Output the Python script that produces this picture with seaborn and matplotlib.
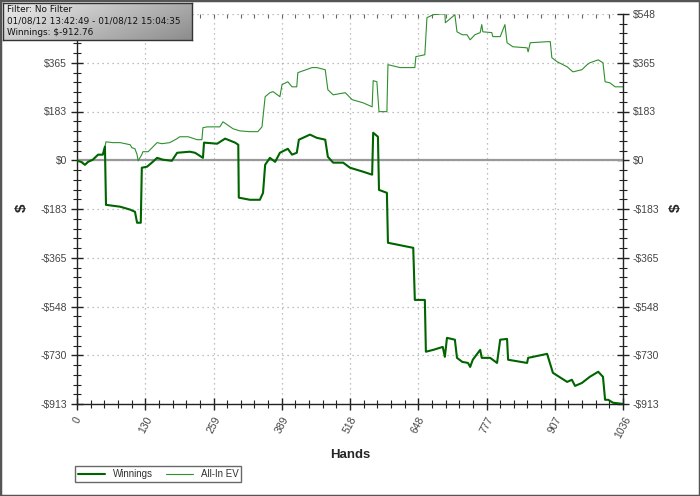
import numpy as np
import pandas as pd
import matplotlib
matplotlib.use("Agg")
import matplotlib.pyplot as plt
import seaborn as sns
from matplotlib.ticker import FixedLocator, AutoMinorLocator, FuncFormatter, NullFormatter
from matplotlib.patches import Rectangle

# Data (hands, cumulative $)
winnings_hands = [0, 8, 15, 21, 30, 40, 49, 53, 55, 82, 101, 110, 114, 121, 123, 133, 142, 152,
                  163, 180, 190, 214, 224, 239, 241, 266, 281, 300, 306, 307, 328, 347, 353, 357,
                  366, 376, 385, 400, 408, 417, 421, 442, 455, 471, 476, 486, 505, 518, 543, 560,
                  562, 571, 573, 588, 590, 638, 641, 660, 662, 676, 694, 698, 702, 717, 721, 731,
                  742, 746, 751, 765, 768, 784, 797, 803, 816, 818, 854, 856, 892, 903, 930, 939,
                  945, 958, 973, 989, 998, 1002, 1008, 1017, 1034, 1036]
winnings_values = [-2, -6, -17, -6, 2, 21, 21, 51, -167, -174, -185, -193, -234, -234, -28, -24,
                   -9, 9, 2, -2, 28, 32, 28, 9, 66, 62, 81, 66, 58, -140, -148, -148, -122, -17,
                   9, -6, 28, 43, 21, 28, 77, 96, 84, 77, 13, -9, -9, -28, -43, -54, 103, 88,
                   -111, -122, -309, -328, -523, -523, -717, -710, -699, -736, -665, -672, -740,
                   -755, -759, -774, -747, -710, -740, -740, -759, -672, -669, -747, -759, -740,
                   -725, -796, -830, -822, -845, -834, -811, -792, -811, -897, -897, -908, -912,
                   -912.76]

ev_hands = [0, 8, 15, 21, 30, 40, 49, 53, 55, 68, 82, 101, 104, 110, 114, 116, 123, 125, 135,
            152, 161, 176, 190, 195, 211, 228, 237, 239, 247, 258, 271, 277, 285, 296, 309, 328,
            343, 351, 357, 366, 372, 385, 389, 400, 408, 417, 419, 446, 455, 471, 476, 486, 509,
            522, 543, 560, 562, 569, 573, 588, 590, 613, 641, 643, 660, 664, 676, 698, 699, 717,
            721, 731, 740, 746, 755, 765, 768, 770, 787, 789, 803, 812, 816, 827, 854, 856, 860,
            892, 898, 901, 911, 930, 941, 958, 968, 973, 989, 998, 1002, 1011, 1021, 1034, 1036]
ev_values = [-2, -6, -17, -6, 2, 21, 21, 51, 69, 66, 66, 58, 47, 43, 21, -2, 21, 32, 32, 66, 62,
             66, 81, 88, 88, 77, 77, 122, 125, 125, 125, 144, 133, 118, 110, 107, 107, 125, 238,
             253, 257, 238, 283, 294, 275, 275, 328, 347, 347, 339, 264, 245, 253, 227, 215, 200,
             298, 294, 182, 182, 358, 347, 347, 388, 395, 534, 545, 549, 515, 545, 481, 470, 470,
             451, 470, 478, 508, 481, 478, 463, 463, 508, 440, 425, 421, 406, 440, 444, 444, 384,
             369, 350, 331, 339, 358, 365, 376, 365, 294, 290, 275, 275, 275]

info_lines = ["Filter: No Filter", "01/08/12 13:42:49 - 01/08/12 15:04:35", "Winnings: $-912.76"]

hand_max = 1036
y_min, y_max = -912.76, 547.66
x_ticks = np.linspace(0, hand_max, 9)
y_ticks = np.linspace(y_min, y_max, 9)

win_df = pd.DataFrame({"hands": winnings_hands, "value": winnings_values})
ev_df = pd.DataFrame({"hands": ev_hands, "value": ev_values})

sns.set_style("white")
plt.rcParams["font.family"] = ["Liberation Sans", "DejaVu Sans"]

fig = plt.figure(figsize=(7, 4.96), dpi=100)
ax = fig.add_axes([77 / 700, 1 - 404 / 496, 546 / 700, 390 / 496])

ax.axhline(0, color="#999999", lw=1.6, zorder=1)
sns.lineplot(data=win_df, x="hands", y="value", ax=ax, color="#006400", lw=1.5,
             sort=False, estimator=None, label="Winnings", zorder=3)
sns.lineplot(data=ev_df, x="hands", y="value", ax=ax, color="#2f8f2f", lw=0.8,
             sort=False, estimator=None, label="All-In EV", zorder=2)

ax.set_xlim(0, hand_max)
ax.set_ylim(y_min, y_max)
ax.xaxis.set_major_locator(FixedLocator(x_ticks))
ax.yaxis.set_major_locator(FixedLocator(y_ticks))
ax.xaxis.set_minor_locator(AutoMinorLocator(5))
ax.yaxis.set_minor_locator(AutoMinorLocator(5))
ax.xaxis.set_major_formatter(FuncFormatter(lambda v, p: "%d" % int(np.floor(v + 0.5))))


def money(v, p):
    n = int(np.floor(abs(v) + 0.5))
    return ("-$%d" % n) if v < -0.5 else "$%d" % n


ax.yaxis.set_major_formatter(FuncFormatter(money))

ax.grid(True, which="major", color="#aaaaaa", linestyle=(0, (1, 3)), lw=0.9)
for s in ["left", "bottom", "right"]:
    ax.spines[s].set_color("#222222")
    ax.spines[s].set_linewidth(1.0)
ax.spines["top"].set_visible(False)

ax.tick_params(which="major", direction="inout", length=8, width=1.0, color="#222222",
               left=True, right=True, bottom=True, top=False, labelright=True,
               labelsize=7.5, labelcolor="#444444")
ax.tick_params(which="minor", direction="inout", length=6, width=0.8, color="#222222",
               left=True, right=True, bottom=True, top=False)
ax.tick_params(axis="y", which="major", pad=3)
ax.tick_params(axis="x", which="major", pad=4)
for lbl in ax.get_xticklabels():
    lbl.set_rotation(62)
    lbl.set_ha("center")

# small ticks along the top edge
top = ax.secondary_xaxis("top")
top.xaxis.set_major_locator(FixedLocator(x_ticks))
top.xaxis.set_minor_locator(AutoMinorLocator(5))
top.xaxis.set_major_formatter(NullFormatter())
top.tick_params(which="both", direction="in", length=3, width=0.8, color="#666666")
top.spines["top"].set_visible(False)

# the top-left $ label sits under the info box in the reference
fig.canvas.draw()
ax.yaxis.get_major_ticks()[-1].label1.set_visible(False)

ax.set_xlabel("Hands", fontsize=9.5, fontweight="bold", labelpad=6)
ax.set_ylabel("")
fig.text(22 / 700, 1 - 208 / 496, "$", fontsize=11, fontweight="bold", rotation=90,
         ha="center", va="center")
fig.text(676 / 700, 1 - 208 / 496, "$", fontsize=11, fontweight="bold", rotation=90,
         ha="center", va="center")

leg = ax.legend(loc="upper left", bbox_to_anchor=(75 / 700, 1 - 466 / 496),
                bbox_transform=fig.transFigure, ncol=2, fontsize=7, frameon=True,
                fancybox=False, edgecolor="#444444", handlelength=2.8, columnspacing=1.3,
                borderpad=0.3, handletextpad=0.8, labelcolor="#333333", borderaxespad=0)
leg.get_frame().set_linewidth(1.0)

# info box with gradient fill in the top-left corner
box = fig.add_axes([3 / 700, 1 - 40 / 496, 189 / 700, 37 / 496], zorder=10)
gx, gy = np.meshgrid(np.linspace(0, 1, 200), np.linspace(0, 1, 40))
box.imshow(0.93 - 0.38 * (0.7 * gx + 0.3 * gy), cmap="gray", vmin=0, vmax=1,
           aspect="auto", extent=(0, 1, 1, 0))
box.set_xticks([])
box.set_yticks([])
for s in box.spines.values():
    s.set_color("#333333")
    s.set_linewidth(1.0)
for i, t in enumerate(info_lines):
    box.text(0.02, 0.83 - i * 0.32, t, transform=box.transAxes, fontsize=6.4,
             family="DejaVu Sans", color="#111111", va="center", ha="left")

# outer frame of the image
fig.patches.append(Rectangle((0, 0), 1, 1, transform=fig.transFigure, fill=False,
                             edgecolor="#555555", lw=2.5, zorder=20))

fig.savefig("out.png", dpi=100)
